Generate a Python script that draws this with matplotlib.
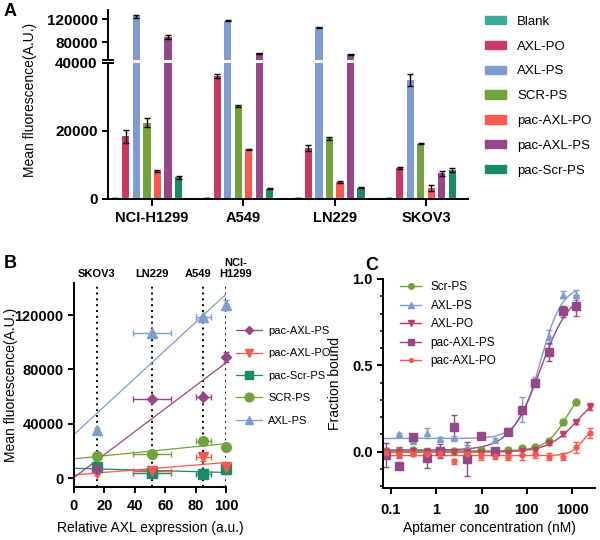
import numpy as np
import matplotlib
matplotlib.use("Agg")
import matplotlib.pyplot as plt
from matplotlib.patches import Patch
from matplotlib.lines import Line2D
from matplotlib.ticker import MultipleLocator, LogLocator, NullFormatter

plt.rcParams["font.family"] = ["Liberation Sans", "DejaVu Sans"]

# ── Panel A data (mean fluorescence per cell line) ──────────────────────────
cells = ["NCI-H1299", "A549", "LN229", "SKOV3"]
series_a = ["Blank", "AXL-PO", "AXL-PS", "SCR-PS", "pac-AXL-PO", "pac-AXL-PS", "pac-Scr-PS"]
blank = [300, 300, 300, 250]
axl_po = [18400, 36200, 14900, 9000]
axl_ps = [125000, 117000, 106000, 35000]
scr_ps = [22500, 27400, 17800, 16300]
pac_axl_po = [8200, 14600, 5000, 3200]
pac_axl_ps = [89000, 61000, 59000, 7600]
pac_scr_ps = [6400, 3000, 3300, 8500]
blank_err = [100, 100, 100, 100]
axl_po_err = [1800, 700, 900, 300]
axl_ps_err = [2500, 800, 800, 1700]
scr_ps_err = [1300, 200, 300, 200]
pac_axl_po_err = [200, 200, 200, 900]
pac_axl_ps_err = [3500, 600, 600, 700]
pac_scr_ps_err = [400, 150, 150, 500]

# ── Panel B data (fluorescence vs relative AXL expression) ──────────────────
b_cells = ["SKOV3", "LN229", "A549", "NCI-\nH1299"]
b_label_shift = [0, 0, -4, 7]   # points, label nudges as in the source figure
axl_expr = [15, 51, 85, 100]
axl_expr_err = [1, 12.5, 5, 0]
b_pac_axl_ps = [7000, 57900, 59400, 89300]
b_pac_axl_po = [3900, 5000, 15200, 8000]
b_pac_scr_ps = [8300, 3400, 2900, 6400]
b_scr_ps = [16400, 17700, 27500, 23100]
b_axl_ps = [35300, 106500, 118300, 127400]
b_pac_axl_ps_err = [700, 600, 600, 3500]
b_pac_axl_po_err = [900, 200, 2500, 200]
b_pac_scr_ps_err = [500, 150, 150, 400]
b_scr_ps_err = [200, 300, 200, 1300]
b_axl_ps_err = [1700, 800, 800, 3500]

# ── Panel C data (binding curves) ───────────────────────────────────────────
conc = [0.076, 0.153, 0.305, 0.61, 1.22, 2.44, 4.88, 9.77, 19.5, 39, 78, 156, 312, 625, 1250, 2500]
c_scr_ps = [0.002, 0.006, 0.008, -0.002, 0.002, 0.005, 0.0, 0.01, 0.002, 0.01, 0.02, 0.03, 0.06, 0.17, 0.29]
c_axl_ps = [0.10, 0.064, 0.11, 0.076, 0.08, 0.03, 0.093, 0.07, 0.118, 0.244, 0.41, 0.665, 0.909, 0.909]
c_axl_po = [0.0, 0.0, 0.005, 0.0, 0.0, 0.0, 0.0, -0.005, -0.005, -0.01, 0.005, 0.01, 0.05, 0.10, 0.17, 0.26]
c_pac_axl_ps = [-0.017, -0.08, 0.085, -0.037, 0.002, 0.141, -0.041, 0.09, 0.005, 0.114, 0.24, 0.40, 0.577, 0.812, 0.845]
c_pac_axl_po = [-0.01, -0.016, -0.015, -0.015, -0.01, -0.056, -0.015, -0.02, -0.024, -0.03, -0.02, -0.015, -0.03, -0.03, 0.025, 0.11]
c_scr_ps_err = [0.01] * 15
c_axl_ps_err = [0.01, 0.01, 0.03, 0.01, 0.01, 0.01, 0.01, 0.01, 0.02, 0.07, 0.02, 0.04, 0.02, 0.03]
c_axl_po_err = [0.02, 0.03, 0.01, 0.01, 0.02, 0.01, 0.01, 0.03, 0.02, 0.02, 0.02, 0.02, 0.01, 0.01, 0.01, 0.02]
c_pac_axl_ps_err = [0.07, 0.01, 0.01, 0.06, 0.04, 0.07, 0.10, 0.01, 0.01, 0.02, 0.02, 0.02, 0.05, 0.03, 0.06]
c_pac_axl_po_err = [0.02, 0.02, 0.01, 0.02, 0.02, 0.015, 0.02, 0.03, 0.02, 0.02, 0.03, 0.02, 0.02, 0.02, 0.03, 0.03]

COL = {
    "Blank": "#3aac9c", "AXL-PO": "#c93a62", "AXL-PS": "#7f9ccf",
    "SCR-PS": "#73a23b", "pac-AXL-PO": "#f9584e", "pac-AXL-PS": "#954788",
    "pac-Scr-PS": "#1b8a68",
}

W, H = 600, 540
fig = plt.figure(figsize=(W / 100, H / 100), dpi=100)


def px_axes(l, t, r, b):
    return fig.add_axes([l / W, 1 - b / H, (r - l) / W, (b - t) / H])


def style(ax, fs=10):
    for s in ["top", "right"]:
        ax.spines[s].set_visible(False)
    for s in ["left", "bottom"]:
        ax.spines[s].set_linewidth(1.4)
    ax.tick_params(width=1.4, length=4, labelsize=fs)
    for lbl in ax.get_xticklabels() + ax.get_yticklabels():
        lbl.set_fontweight("bold")


# ── Panel A ─────────────────────────────────────────────────────────────────
ax_up = px_axes(108, 10, 468, 59.5)
ax_lo = px_axes(108, 63, 468, 199)
vals_a = [blank, axl_po, axl_ps, scr_ps, pac_axl_po, pac_axl_ps, pac_scr_ps]
errs_a = [blank_err, axl_po_err, axl_ps_err, scr_ps_err, pac_axl_po_err, pac_axl_ps_err, pac_scr_ps_err]
xg = np.arange(len(cells))
slot = 10.5 / 91
bw = 7.2 / 91
for ax in (ax_up, ax_lo):
    for k, (name, v, e) in enumerate(zip(series_a, vals_a, errs_a)):
        xs = xg + (k - 3.5) * slot
        ax.bar(xs, v, bw, color=COL[name], label=name)
        ax.errorbar(xs, v, yerr=e, fmt="none", ecolor="black", elinewidth=1, capsize=2, capthick=1)
    ax.set_xlim(-0.484, 3.46)

ax_up.set_ylim(50000, 136000)
ax_up.set_yticks([80000, 120000])
ax_up.set_xticks([])
ax_lo.set_ylim(0, 40000)
ax_lo.set_yticks([0, 20000, 40000])
ax_lo.set_xticks(xg)
ax_lo.set_xticklabels(cells)
style(ax_up, 11)
style(ax_lo, 11)
ax_up.spines["bottom"].set_visible(False)
ax_lo.tick_params(axis="x", labelsize=10.5, length=5)
for yb in (59.5, 63):
    fig.add_artist(Line2D([103 / W, 113 / W], [1 - yb / H, 1 - yb / H], color="black", lw=1.4))
fig.text(30 / W, 1 - 100 / H, "Mean fluorescence(A.U.)", rotation=90, ha="center", va="center", fontsize=10)
fig.text(4 / W, 1 - 12 / H, "A", fontsize=13, fontweight="bold", ha="left", va="center")
handles_a = [Patch(color=COL[n], label=n) for n in series_a]
fig.legend(handles=handles_a, loc="upper left", bbox_to_anchor=(473 / W, 1 - 4 / H), frameon=False,
           fontsize=9.5, handlelength=1.6, handleheight=0.6, labelspacing=0.97, handletextpad=0.85)

# ── Panel B ─────────────────────────────────────────────────────────────────
ax_b = px_axes(74, 283, 226, 487)
b_series = [("pac-AXL-PS", b_pac_axl_ps, b_pac_axl_ps_err, "D", 5),
            ("pac-AXL-PO", b_pac_axl_po, b_pac_axl_po_err, "v", 6.5),
            ("pac-Scr-PS", b_pac_scr_ps, b_pac_scr_ps_err, "s", 6.5),
            ("SCR-PS", b_scr_ps, b_scr_ps_err, "o", 7),
            ("AXL-PS", b_axl_ps, b_axl_ps_err, "^", 6.5)]
for xc in axl_expr:
    ax_b.axvline(xc, color="black", ls=(0, (1, 2)), lw=1.4, zorder=0)
for name, v, e, mk, ms in b_series[::-1]:
    c = COL[name]
    slope, icpt = np.polyfit(axl_expr, v, 1)
    xl = np.array([0, 100])
    ax_b.plot(xl, slope * xl + icpt, color=c, lw=0.9, zorder=2)
    ax_b.errorbar(axl_expr, v, xerr=axl_expr_err, yerr=e, fmt=mk, color=c, ms=ms, elinewidth=1,
                  capsize=2.5, capthick=1, zorder=3, clip_on=False)
ax_b.set_xlim(0, 100)
ax_b.set_ylim(-6600, 143600)
ax_b.set_xticks([0, 20, 40, 60, 80, 100])
ax_b.set_yticks([0, 40000, 80000, 120000])
style(ax_b, 10.5)
ax_b.tick_params(axis="x", pad=5)
for xc, name, dx in zip(axl_expr, b_cells, b_label_shift):
    ax_b.annotate(name, (xc, 1), xycoords=("data", "axes fraction"), xytext=(dx, 3),
                  textcoords="offset points", ha="center", va="bottom", fontsize=8, fontweight="bold",
                  linespacing=1.15)
ax_b.set_ylabel("Mean fluorescence(A.U.)", fontsize=10)
ax_b.yaxis.set_label_coords(-0.37, 0.5)
fig.text(150 / W, 1 - 528 / H, "Relative AXL expression (a.u.)", ha="center", va="center", fontsize=10)
fig.text(4 / W, 1 - 263 / H, "B", fontsize=13, fontweight="bold", ha="left", va="center")
handles_b = [Line2D([], [], color=COL[n], marker=mk, ms=ms * 0.9, lw=0.9, label=n)
             for n, _, _, mk, ms in b_series]
fig.legend(handles=handles_b, loc="upper left", bbox_to_anchor=(226 / W, 1 - 316 / H), frameon=False,
           fontsize=8, handlelength=2.3, labelspacing=1.12, handletextpad=0.6)

# ── Panel C ─────────────────────────────────────────────────────────────────
ax_c = px_axes(383, 279, 595, 488)


def hill_fit(x, y):
    lx = np.log10(x)
    best = None
    for h in np.linspace(0.6, 3.0, 25):
        for lk in np.linspace(0.5, 4.5, 81):
            f = 1 / (1 + 10 ** (h * (lk - lx)))
            A = np.column_stack([np.ones_like(f), f])
            coef, *_ = np.linalg.lstsq(A, y, rcond=None)
            r = np.sum((A @ coef - y) ** 2)
            if best is None or r < best[0]:
                best = (r, h, lk, coef)
    return best[1:]


c_series = [("Scr-PS", COL["SCR-PS"], conc[:15], c_scr_ps, c_scr_ps_err, "o", 5),
            ("AXL-PS", COL["AXL-PS"], conc[1:15], c_axl_ps, c_axl_ps_err, "^", 5),
            ("AXL-PO", COL["AXL-PO"], conc, c_axl_po, c_axl_po_err, "v", 5),
            ("pac-AXL-PS", COL["pac-AXL-PS"], conc[:15], c_pac_axl_ps, c_pac_axl_ps_err, "s", 5.5),
            ("pac-AXL-PO", COL["pac-AXL-PO"], conc, c_pac_axl_po, c_pac_axl_po_err, "o", 3.5)]
for name, c, x, y, e, mk, ms in c_series:
    x = np.array(x)
    y = np.array(y)
    h, lk, (bot, span) = hill_fit(x, y)
    xs = np.logspace(np.log10(0.07), np.log10(x.max()), 200)
    ax_c.plot(xs, bot + span / (1 + 10 ** (h * (lk - np.log10(xs)))), color=c, lw=1)
    ax_c.errorbar(x, y, yerr=e, fmt=mk, color=c, ms=ms, elinewidth=1, capsize=2.5, capthick=1)
ax_c.set_xscale("log")
ax_c.set_xlim(0.0666, 3220)
ax_c.set_ylim(-0.21, 1.0)
ax_c.set_xticks([0.1, 1, 10, 100, 1000])
ax_c.set_xticklabels(["0.1", "1", "10", "100", "1000"])
ax_c.xaxis.set_minor_locator(LogLocator(base=10, subs=np.arange(2, 10)))
ax_c.xaxis.set_minor_formatter(NullFormatter())
ax_c.set_yticks([0.0, 0.5, 1.0])
ax_c.yaxis.set_minor_locator(MultipleLocator(0.1))
style(ax_c, 10.5)
ax_c.tick_params(axis="x", pad=7)
ax_c.tick_params(which="minor", width=1.1, length=2.5)
ax_c.set_ylabel("Fraction bound", fontsize=10)
ax_c.yaxis.set_label_coords(-0.195, 0.5)
fig.text(489 / W, 1 - 528 / H, "Aptamer concentration (nM)", ha="center", va="center", fontsize=10)
fig.text(365 / W, 1 - 266 / H, "C", fontsize=13, fontweight="bold", ha="left", va="center")
handles_c = [Line2D([], [], color=c, marker=mk, ms=ms * 0.8, lw=1, label=n)
             for n, c, _, _, _, mk, ms in c_series]
ax_c.legend(handles=handles_c, loc="upper left", bbox_to_anchor=(0.03, 1.04), frameon=False,
            fontsize=8.5, handlelength=1.8, labelspacing=0.55, handletextpad=0.8)

fig.savefig("out.png", dpi=100)
